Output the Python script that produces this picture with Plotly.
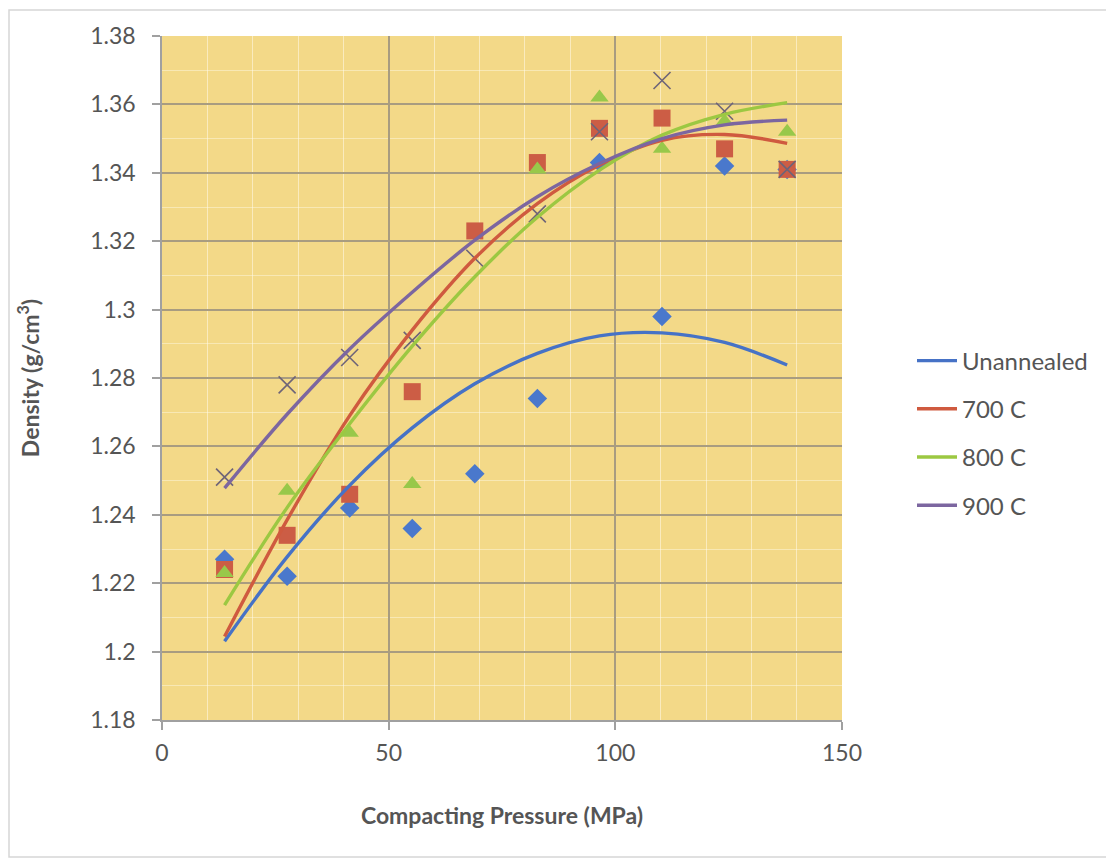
import plotly.graph_objects as go

# ---- data ----
pressure = [13.8, 27.6, 41.4, 55.2, 69.0, 82.8, 96.5, 110.3, 124.1, 137.9]

unannealed = [1.227, 1.222, 1.242, 1.236, 1.252, 1.274, 1.343, 1.298, 1.342, 1.341]
c700 = [1.224, 1.234, 1.246, 1.276, 1.323, 1.343, 1.353, 1.356, 1.347, 1.341]
c800 = [1.223, 1.247, 1.264, 1.249, None, 1.341, 1.362, 1.347, 1.355, 1.352]
c900 = [1.251, 1.278, 1.286, 1.291, 1.315, 1.328, 1.352, 1.367, 1.358, 1.341]

# polynomial trendlines at the same pressures
fit_unannealed = [1.203, 1.2277, 1.2486, 1.2654, 1.2783, 1.2872, 1.2923, 1.2932, 1.2904, 1.2838]
fit_700 = [1.2044, 1.2385, 1.2690, 1.2940, 1.3150, 1.3310, 1.3423, 1.3495, 1.3512, 1.3486]
fit_800 = [1.2136, 1.2421, 1.2666, 1.2893, 1.3096, 1.3270, 1.3408, 1.3510, 1.3571, 1.3605]
fit_900 = [1.2478, 1.2694, 1.2885, 1.3051, 1.3203, 1.3330, 1.3427, 1.3500, 1.3540, 1.3554]

series_names = ["Unannealed", "700 C", "800 C", "900 C"]
x_ticks = [0, 50, 100, 150]
y_ticks = [1.18, 1.20, 1.22, 1.24, 1.26, 1.28, 1.30, 1.32, 1.34, 1.36, 1.38]
y_tick_text = ["1.18", "1.2", "1.22", "1.24", "1.26", "1.28", "1.3", "1.32", "1.34", "1.36", "1.38"]

# ---- styling ----
colors = ["#4672C6", "#CF5A3F", "#9CC842", "#7C66A0"]
marker_colors = ["#4A78CC", "#CC5D45", "#98C84A", "#6E6478"]
symbols = ["diamond", "square", "triangle-up", "x-thin"]
sizes = [15, 17, 16, 17]
FONT = "Lato, 'Open Sans', sans-serif"
TXT = "#555555"

fig = go.Figure()

points = [unannealed, c700, c800, c900]
fits = [fit_unannealed, fit_700, fit_800, fit_900]

for i, (name, ys) in enumerate(zip(series_names, points)):
    mk = dict(symbol=symbols[i], size=sizes[i], color=marker_colors[i])
    if symbols[i] == "x-thin":
        mk["line"] = dict(color=marker_colors[i], width=1.6)
    else:
        mk["line"] = dict(width=0)
    fig.add_trace(go.Scatter(x=pressure, y=ys, mode="markers", marker=mk,
                             showlegend=False, name=name + " data"))

for i, (name, ys) in enumerate(zip(series_names, fits)):
    fig.add_trace(go.Scatter(x=pressure, y=ys, mode="lines", name=name,
                             line=dict(color=colors[i], width=3.4, shape="spline", smoothing=1.0),
                             legendgroup=name))

# page has an 8px body margin, so the figure is placed at (8, 8)
OFF = 8
W, H = 1114 - OFF, 862 - OFF
L, T = 162 - OFF, 36 - OFF
R = W - (842 - OFF)
B = H - (720 - OFF)
pw, ph = W - L - R, H - T - B

def px(xp):
    return (xp - OFF - L) / pw

def py(yp):
    return (H - B - (yp - OFF)) / ph

fig.add_shape(type="rect", xref="paper", yref="paper",
              x0=px(9), x1=px(1109), y0=py(857), y1=py(10),
              line=dict(color="#D6D6D6", width=1.5), fillcolor="rgba(0,0,0,0)", layer="below")

fig.update_layout(
    width=W, height=H,
    margin=dict(l=L, r=R, t=T, b=B),
    paper_bgcolor="white",
    plot_bgcolor="#F3D988",
    font=dict(family=FONT, color=TXT, size=23),
    legend=dict(x=px(912), y=py(433), xanchor="left", yanchor="middle",
                font=dict(size=24, color=TXT), itemwidth=40, tracegroupgap=14,
                bgcolor="rgba(0,0,0,0)"),
    xaxis=dict(range=[0, 150], tickvals=x_ticks, ticktext=[str(v) for v in x_ticks],
               showgrid=True, gridcolor="#A89C80", gridwidth=1.5,
               minor=dict(dtick=10, showgrid=True, gridcolor="rgba(255,250,235,0.55)", gridwidth=1),
               ticks="outside", ticklen=8, tickcolor="#A0A0A0", tickwidth=1.5,
               showline=True, linecolor="#A0A0A0", linewidth=1.5, zeroline=False,
               tickfont=dict(size=23, color=TXT), ticklabelstandoff=4,
               title=dict(text="<b>Compacting Pressure (MPa)</b>", font=dict(size=23, color=TXT),
                          standoff=43)),
    yaxis=dict(range=[1.18, 1.38], tickvals=y_ticks, ticktext=y_tick_text,
               showgrid=True, gridcolor="#A89C80", gridwidth=1.5,
               minor=dict(dtick=0.01, showgrid=True, gridcolor="rgba(255,250,235,0.45)", gridwidth=1),
               ticks="outside", ticklen=8, tickcolor="#A0A0A0", tickwidth=1.5,
               showline=True, linecolor="#A0A0A0", linewidth=1.5, zeroline=False,
               tickfont=dict(size=23, color=TXT), ticklabelstandoff=12,
               title=dict(text="<b>Density (g/cm<sup>3</sup>)</b>", font=dict(size=23, color=TXT),
                          standoff=44)),
)

fig.write_html("out.html")
